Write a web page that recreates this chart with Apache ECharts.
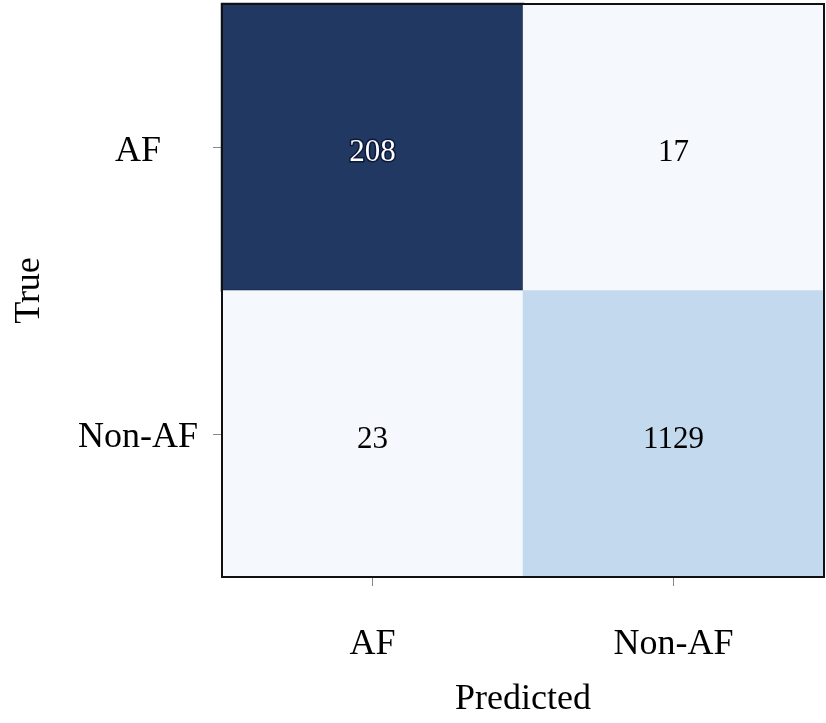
<!DOCTYPE html>
<html>
<head>
<meta charset="utf-8">
<script src="https://cdn.jsdelivr.net/npm/echarts@6/dist/echarts.min.js"></script>
<style>
  html, body { margin: 0; padding: 0; background: #fff; }
  #chart-panel { width: 826px; height: 723px; }
</style>
</head>
<body>
<div id="chart-panel"></div>
<script>
var chart = echarts.init(document.getElementById('chart-panel'));

// predicted classes (x) and true classes (y)
var predLabels = ['AF', 'Non-AF'];
var trueLabels = ['AF', 'Non-AF'];
// confusion matrix counts, row = true class
var rowAF = [208, 17];
var rowNonAF = [23, 1129];

var serif = '"Liberation Serif", "DejaVu Serif", serif';

var cells = [];
[rowAF, rowNonAF].forEach(function (row, y) {
    row.forEach(function (v, x) {
        cells.push([x, y, v]);
    });
});

var option = {
    backgroundColor: '#fff',
    grid: {
        left: 222,
        right: 2,
        top: 4,
        bottom: 141,
        show: true,
        borderColor: '#111',
        borderWidth: 2,
        z: 10
    },
    xAxis: {
        type: 'category',
        data: predLabels,
        name: 'Predicted',
        nameLocation: 'middle',
        nameGap: 105,
        nameTextStyle: { fontFamily: serif, fontSize: 36, color: '#000' },
        axisLine: { show: false },
        axisTick: { show: true, alignWithLabel: true, length: 9, lineStyle: { color: '#888' } },
        axisLabel: { fontFamily: serif, fontSize: 36, color: '#000', margin: 50 },
        splitArea: { show: false }
    },
    yAxis: {
        type: 'category',
        data: trueLabels,
        inverse: true,
        name: 'True',
        nameLocation: 'middle',
        nameGap: 174,
        nameTextStyle: { fontFamily: serif, fontSize: 36, color: '#000' },
        axisLine: { show: false },
        axisTick: { show: true, alignWithLabel: true, length: 9, lineStyle: { color: '#888' } },
        axisLabel: {
            align: 'center', margin: 84,
            formatter: function (v) { return '{t|' + v + '}'; },
            rich: {
                t: { fontFamily: serif, fontSize: 36, color: '#000', padding: [8, 0, 0, 0] }
            }
        },
        splitArea: { show: false }
    },
    visualMap: {
        show: false,
        type: 'piecewise',
        dimension: 2,
        pieces: [
            { min: 0, max: 100, color: '#f5f9fd' },
            { min: 100, max: 500, color: '#213862' },
            { min: 500, color: '#c3d9ee' }
        ]
    },
    series: [{
        type: 'heatmap',
        itemStyle: { borderWidth: 0 },
        label: {
            show: true,
            fontFamily: serif,
            fontSize: 31,
            color: '#000',
            offset: [0, 6],
            formatter: function (p) { return p.value[2]; }
        },
        emphasis: { disabled: true }
    }]
};

// the dark cell gets white text and a dark outline
option.series[0].data = cells.map(function (c) {
    if (c[2] > 100 && c[2] < 500) {
        return {
            value: c,
            itemStyle: { borderColor: '#0b1838', borderWidth: 2 },
            label: { color: '#fff', textBorderColor: '#0b1838', textBorderWidth: 3 }
        };
    }
    return { value: c };
});

chart.setOption(option);
</script>
</body>
</html>
